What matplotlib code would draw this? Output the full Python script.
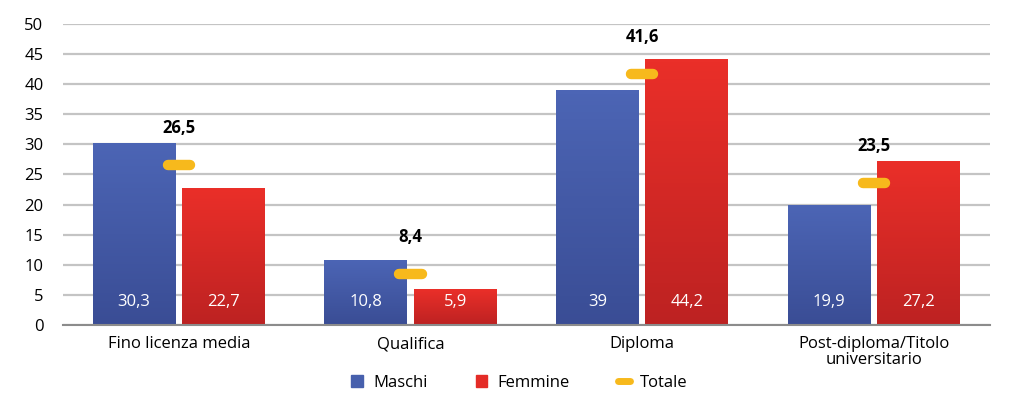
import numpy as np
import matplotlib.pyplot as plt
from matplotlib.lines import Line2D
from matplotlib.patches import Patch

plt.rcParams['font.family'] = ['Open Sans', 'DejaVu Sans']

categorie = ['Fino licenza media', 'Qualifica', 'Diploma', 'Post-diploma/Titolo\nuniversitario']
maschi = [30.3, 10.8, 39, 19.9]
femmine = [22.7, 5.9, 44.2, 27.2]
totale = [26.5, 8.4, 41.6, 23.5]


def fmt(v):
    s = f'{v:g}'
    return s.replace('.', ',')


def gradient_bar(ax, bar, c_top, c_bot):
    x0, y0 = bar.get_x(), bar.get_y()
    w, h = bar.get_width(), bar.get_height()
    grad = np.linspace(0, 1, 64).reshape(-1, 1)
    cmap = plt.matplotlib.colors.LinearSegmentedColormap.from_list('g', [c_bot, c_top])
    im = ax.imshow(grad, cmap=cmap, aspect='auto', origin='lower',
                   extent=(x0, x0 + w, y0, y0 + h), zorder=2)
    im.set_clip_path(bar)
    bar.set_alpha(0)


fig = plt.figure(figsize=(10.24, 4.01), dpi=100)
ax = fig.add_axes([0.0615, 0.1895, 0.905, 0.751])

x = np.arange(len(categorie))
w = 0.358
off = 0.193
b1 = ax.bar(x - off, maschi, w, color='#4760ad', zorder=2)
b2 = ax.bar(x + off, femmine, w, color='#e42c27', zorder=2)
for b in b1:
    gradient_bar(ax, b, '#4c65b5', '#3a4d95')
for b in b2:
    gradient_bar(ax, b, '#ea2f29', '#bd2222')

# Totale: trattino arrotondato centrato sulla categoria
ax.hlines(totale, x - 0.048, x + 0.048, color='#f7b91c', linewidth=7.5,
          capstyle='round', zorder=4)

for i in range(len(x)):
    ax.text(x[i] - off, 3.8, fmt(maschi[i]), color='white', ha='center', va='center',
            fontsize=12, zorder=5)
    ax.text(x[i] + off, 3.8, fmt(femmine[i]), color='white', ha='center', va='center',
            fontsize=12, zorder=5)
    ax.annotate(fmt(totale[i]), (x[i], totale[i]), xytext=(0, 27), textcoords='offset points',
                ha='center', va='center', fontsize=12, fontweight='bold', zorder=5)

ax.set_xlim(-0.5, 3.5)
ax.set_ylim(0, 50)
ax.set_yticks(range(0, 51, 5))
ax.set_xticks(x)
ax.set_xticklabels(categorie, fontsize=12, linespacing=0.95)
ax.tick_params(axis='y', labelsize=12, length=0, pad=14)
ax.tick_params(axis='x', length=0, pad=8)
ax.yaxis.grid(True, color='#c4c4c4', linewidth=1.6, zorder=0)
ax.set_axisbelow(True)
for s in ['top', 'right', 'left']:
    ax.spines[s].set_visible(False)
ax.spines['bottom'].set_color('#8c8c8c')
ax.spines['bottom'].set_linewidth(1.5)

handles = [Patch(color='#4760ad'), Patch(color='#e42c27'),
           Line2D([], [], color='#f7b91c', linewidth=5, solid_capstyle='round')]
fig.legend(handles, ['Maschi', 'Femmine', 'Totale'], loc='center', bbox_to_anchor=(0.507, 0.045),
           ncol=3, frameon=False, fontsize=12, handlelength=0.7, handleheight=0.7,
           columnspacing=2.9, handletextpad=0.6)

fig.savefig('out.png', dpi=100)
